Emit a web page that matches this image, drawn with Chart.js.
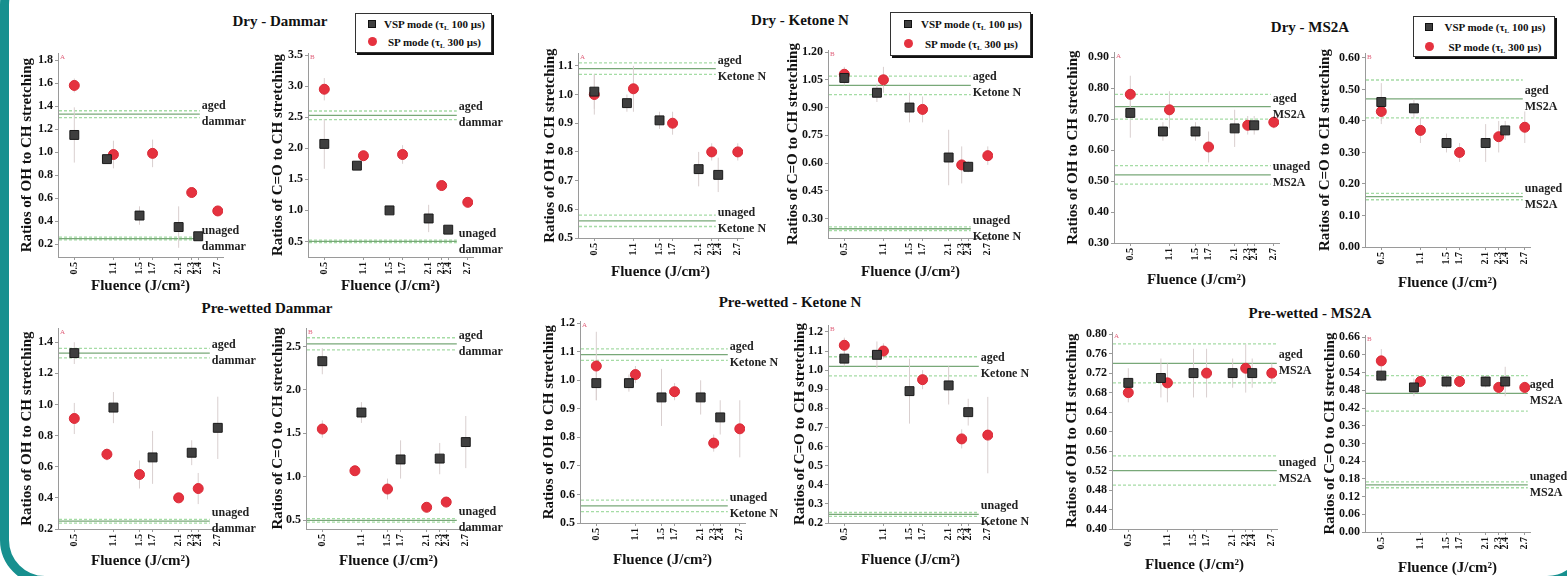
<!DOCTYPE html>
<html>
<head>
<meta charset="utf-8">
<script src="https://cdn.jsdelivr.net/npm/chart.js@4.4.1/dist/chart.umd.min.js"></script>
<style>
body { margin: 0; width: 1567px; height: 576px; overflow: hidden; background: #fff; position: relative; font-family: "Liberation Serif", "DejaVu Serif", serif; color: #111; }
.frame { position: absolute; left: 0; top: -40px; width: 1592px; height: 625px; box-sizing: border-box; border: 9px solid #17908f; border-radius: 45px; }
canvas { position: absolute; }
.ptitle { position: absolute; transform: translate(-50%, -50%); font-weight: bold; font-size: 15px; white-space: nowrap; }
.legend { position: absolute; border: 1px solid #333; box-shadow: 2px 2px 0 #111; background: #fff; font-weight: bold; font-size: 11px; box-sizing: border-box; }
.legend .row { position: absolute; left: 0; right: 0; height: 14px; line-height: 14px; }
.legend .sq { position: absolute; top: 3px; width: 6px; height: 6px; background: #404040; border: 1px solid #111; }
.legend .ci { position: absolute; top: 2px; width: 9px; height: 9px; border-radius: 50%; background: #e5323f; }
.legend .txt { position: absolute; left: 24px; right: 2px; text-align: center; white-space: nowrap; }
.legend sub { font-size: 7px; vertical-align: -2px; line-height: 0; }
</style>
</head>
<body>
<div class="frame"></div>
<script>
// fluence values (J/cm2)
const fluenceA = [0.5, 1.0, 1.5, 2.1, 2.4];
const fluenceB = [0.5, 1.1, 1.7, 2.3, 2.7];
const fluenceTicks = [0.5, 1.1, 1.5, 1.7, 2.1, 2.3, 2.4, 2.7];

// Dry - Dammar
const dryDammarOhVsp = [1.15, 0.94, 0.45, 0.35, 0.27];
const dryDammarOhVspErr = [0.24, 0.03, 0.08, 0.18, 0.02];
const dryDammarOhSp = [1.58, 0.98, 0.99, 0.65, 0.49];
const dryDammarOhSpErr = [0.06, 0.12, 0.12, 0.02, 0.02];
const dryDammarCoVsp = [2.07, 1.72, 1.0, 0.87, 0.69];
const dryDammarCoVspErr = [0.4, 0.05, 0.06, 0.22, 0.03];
const dryDammarCoSp = [2.95, 1.88, 1.9, 1.4, 1.13];
const dryDammarCoSpErr = [0.18, 0.08, 0.15, 0.05, 0.05];

// Dry - Ketone N
const dryKetoneOhVsp = [1.01, 0.97, 0.91, 0.74, 0.72];
const dryKetoneOhVspErr = [0.06, 0.03, 0.03, 0.06, 0.06];
const dryKetoneOhSp = [1.0, 1.02, 0.90, 0.80, 0.80];
const dryKetoneOhSpErr = [0.07, 0.08, 0.04, 0.03, 0.03];
const dryKetoneCoVsp = [1.06, 0.98, 0.90, 0.63, 0.58];
const dryKetoneCoVspErr = [0.04, 0.05, 0.08, 0.15, 0.03];
const dryKetoneCoSp = [1.08, 1.05, 0.89, 0.59, 0.64];
const dryKetoneCoSpErr = [0.04, 0.07, 0.07, 0.1, 0.05];

// Dry - MS2A
const dryMs2aOhVsp = [0.72, 0.66, 0.66, 0.67, 0.68];
const dryMs2aOhVspErr = [0.08, 0.03, 0.03, 0.06, 0.03];
const dryMs2aOhSp = [0.78, 0.73, 0.61, 0.68, 0.69];
const dryMs2aOhSpErr = [0.06, 0.06, 0.05, 0.03, 0.02];
const dryMs2aCoVsp = [0.46, 0.44, 0.33, 0.33, 0.37];
const dryMs2aCoVspErr = [0.06, 0.03, 0.03, 0.06, 0.03];
const dryMs2aCoSp = [0.43, 0.37, 0.30, 0.35, 0.38];
const dryMs2aCoSpErr = [0.04, 0.04, 0.03, 0.05, 0.05];

// Pre-wetted Dammar (VSP on fluenceB, SP on fluenceA)
const wetDammarOhVsp = [1.33, 0.98, 0.66, 0.69, 0.85];
const wetDammarOhVspErr = [0.07, 0.1, 0.17, 0.08, 0.2];
const wetDammarOhSp = [0.91, 0.68, 0.55, 0.40, 0.46];
const wetDammarOhSpErr = [0.1, 0.04, 0.09, 0.02, 0.1];
const wetDammarCoVsp = [2.33, 1.74, 1.2, 1.21, 1.4];
const wetDammarCoVspErr = [0.15, 0.12, 0.22, 0.18, 0.3];
const wetDammarCoSp = [1.55, 1.07, 0.86, 0.65, 0.71];
const wetDammarCoSpErr = [0.1, 0.06, 0.12, 0.03, 0.06];

// Pre-wetted - Ketone N
const wetKetoneOhVsp = [0.99, 0.99, 0.94, 0.94, 0.87];
const wetKetoneOhVspErr = [0.06, 0.03, 0.1, 0.06, 0.06];
const wetKetoneOhSp = [1.05, 1.02, 0.96, 0.78, 0.83];
const wetKetoneOhSpErr = [0.12, 0.03, 0.03, 0.03, 0.1];
const wetKetoneCoVsp = [1.06, 1.08, 0.89, 0.92, 0.78];
const wetKetoneCoVspErr = [0.04, 0.07, 0.17, 0.1, 0.07];
const wetKetoneCoSp = [1.13, 1.10, 0.95, 0.64, 0.66];
const wetKetoneCoSpErr = [0.04, 0.04, 0.05, 0.05, 0.2];

// Pre-wetted - MS2A
const wetMs2aOhVsp = [0.70, 0.71, 0.72, 0.72, 0.72];
const wetMs2aOhVspErr = [0.03, 0.04, 0.05, 0.03, 0.03];
const wetMs2aOhSp = [0.68, 0.70, 0.72, 0.73, 0.72];
const wetMs2aOhSpErr = [0.02, 0.04, 0.05, 0.05, 0.02];
const wetMs2aCoVsp = [0.53, 0.49, 0.51, 0.51, 0.51];
const wetMs2aCoVspErr = [0.02, 0.03, 0.02, 0.02, 0.05];
const wetMs2aCoSp = [0.58, 0.51, 0.51, 0.49, 0.49];
const wetMs2aCoSpErr = [0.04, 0.02, 0.02, 0.02, 0.02];

// reference values [mean, spread]
const dammarOhAged = [1.33, 0.03], dammarOhUnaged = [0.25, 0.012];
const dammarCoAged = [2.53, 0.07], dammarCoUnaged = [0.5, 0.02];
const ketoneOhAged = [1.09, 0.02], ketoneOhUnaged = [0.56, 0.02];
const ketoneCoAged = [1.02, 0.05], ketoneCoUnaged = [0.245, 0.01];
const ms2aOhAged = [0.74, 0.04], ms2aOhUnaged = [0.52, 0.03];
const ms2aCoAged = [0.47, 0.06], ms2aCoUnaged = [0.16, 0.01];

// y tick labels
const ticksDammarOh = [0.2, 0.4, 0.6, 0.8, 1.0, 1.2, 1.4, 1.6, 1.8];
const ticksDammarCo = [0.5, 1.0, 1.5, 2.0, 2.5, 3.0, 3.5];
const ticksKetoneOh = [0.5, 0.6, 0.7, 0.8, 0.9, 1.0, 1.1];
const ticksKetoneCo = [0.30, 0.45, 0.60, 0.75, 0.90, 1.05, 1.20];
const ticksMs2aOh = [0.30, 0.35, 0.40, 0.45, 0.50, 0.55, 0.60, 0.65, 0.70, 0.75, 0.80, 0.85, 0.90];
const ticksMs2aCo = [0.00, 0.05, 0.10, 0.15, 0.20, 0.25, 0.30, 0.35, 0.40, 0.45, 0.50, 0.55, 0.60];
const ticksWetDammarOh = [0.2, 0.4, 0.6, 0.8, 1.0, 1.2, 1.4];
const ticksWetDammarCo = [0.5, 1.0, 1.5, 2.0, 2.5];
const ticksWetKetoneOh = [0.5, 0.6, 0.7, 0.8, 0.9, 1.0, 1.1, 1.2];
const ticksWetKetoneCo = [0.2, 0.3, 0.4, 0.5, 0.6, 0.7, 0.8, 0.9, 1.0, 1.1, 1.2];
const ticksWetMs2aOh = [0.40, 0.44, 0.48, 0.52, 0.56, 0.60, 0.64, 0.68, 0.72, 0.76, 0.80];
const ticksWetMs2aCo = [0.00, 0.06, 0.12, 0.18, 0.24, 0.30, 0.36, 0.42, 0.48, 0.54, 0.60, 0.66];

const OH_TITLE = 'Ratios of OH to CH stretching';
const CO_TITLE = 'Ratios of C=O to CH stretching';

const panels = [
    { vspX: fluenceA, vsp: dryDammarOhVsp, vspErr: dryDammarOhVspErr, spX: fluenceB, sp: dryDammarOhSp, spErr: dryDammarOhSpErr,
      yTicks: ticksDammarOh, yMin: 0.09, yMax: 1.86, dec: 1, yTitle: OH_TITLE, aged: dammarOhAged, unaged: dammarOhUnaged, name: 'dammar', letter: 'A',
      axisX: 58, top: 48, bottom: 257, yw: 40, xh: 38, labelDx: -16 },
    { vspX: fluenceA, vsp: dryDammarCoVsp, vspErr: dryDammarCoVspErr, spX: fluenceB, sp: dryDammarCoSp, spErr: dryDammarCoSpErr,
      yTicks: ticksDammarCo, yMin: 0.25, yMax: 3.53, dec: 1, yTitle: CO_TITLE, aged: dammarCoAged, unaged: dammarCoUnaged, name: 'dammar', letter: 'B',
      axisX: 308, top: 48, bottom: 257, yw: 39, xh: 38, labelDx: -9 },
    { vspX: fluenceA, vsp: dryKetoneOhVsp, vspErr: dryKetoneOhVspErr, spX: fluenceB, sp: dryKetoneOhSp, spErr: dryKetoneOhSpErr,
      yTicks: ticksKetoneOh, yMin: 0.5, yMax: 1.144, dec: 1, yTitle: OH_TITLE, aged: ketoneOhAged, unaged: ketoneOhUnaged, name: 'Ketone N', letter: 'A',
      axisX: 578, top: 48, bottom: 238, yw: 37, xh: 43, labelDx: -20 },
    { vspX: fluenceA, vsp: dryKetoneCoVsp, vspErr: dryKetoneCoVspErr, spX: fluenceB, sp: dryKetoneCoSp, spErr: dryKetoneCoSpErr,
      yTicks: ticksKetoneCo, yMin: 0.195, yMax: 1.21, dec: 2, yTitle: CO_TITLE, aged: ketoneCoAged, unaged: ketoneCoUnaged, name: 'Ketone N', letter: 'B',
      axisX: 828, top: 45, bottom: 238, yw: 44, xh: 43, labelDx: -15 },
    { vspX: fluenceA, vsp: dryMs2aOhVsp, vspErr: dryMs2aOhVspErr, spX: fluenceB, sp: dryMs2aOhSp, spErr: dryMs2aOhSpErr,
      yTicks: ticksMs2aOh, yMin: 0.30, yMax: 0.916, dec: 2, yTitle: OH_TITLE, aged: ms2aOhAged, unaged: ms2aOhUnaged, name: 'MS2A', letter: 'A',
      axisX: 1114, top: 47, bottom: 243, yw: 50, xh: 46, labelDx: -1 },
    { vspX: fluenceA, vsp: dryMs2aCoVsp, vspErr: dryMs2aCoVspErr, spX: fluenceB, sp: dryMs2aCoSp, spErr: dryMs2aCoSpErr,
      yTicks: ticksMs2aCo, yMin: 0, yMax: 0.615, dec: 2, yTitle: CO_TITLE, aged: ms2aCoAged, unaged: ms2aCoUnaged, name: 'MS2A', letter: 'B',
      axisX: 1365, top: 48, bottom: 247, yw: 49, xh: 45, labelDx: 0 },
    { vspX: fluenceB, vsp: wetDammarOhVsp, vspErr: wetDammarOhVspErr, spX: fluenceA, sp: wetDammarOhSp, spErr: wetDammarOhSpErr,
      yTicks: ticksWetDammarOh, yMin: 0.2, yMax: 1.49, dec: 1, yTitle: OH_TITLE, aged: dammarOhAged, unaged: dammarOhUnaged, name: 'dammar', letter: 'A',
      axisX: 58, top: 323, bottom: 529, yw: 40, xh: 41, labelDx: -6 },
    { vspX: fluenceB, vsp: wetDammarCoVsp, vspErr: wetDammarCoVspErr, spX: fluenceA, sp: wetDammarCoSp, spErr: wetDammarCoSpErr,
      yTicks: ticksWetDammarCo, yMin: 0.4, yMax: 2.71, dec: 1, yTitle: CO_TITLE, aged: dammarCoAged, unaged: dammarCoUnaged, name: 'dammar', letter: 'B',
      axisX: 306, top: 323, bottom: 529, yw: 37, xh: 41, labelDx: -7 },
    { vspX: fluenceA, vsp: wetKetoneOhVsp, vspErr: wetKetoneOhVspErr, spX: fluenceB, sp: wetKetoneOhSp, spErr: wetKetoneOhSpErr,
      yTicks: ticksWetKetoneOh, yMin: 0.5, yMax: 1.207, dec: 1, yTitle: OH_TITLE, aged: ketoneOhAged, unaged: ketoneOhUnaged, name: 'Ketone N', letter: 'A',
      axisX: 580, top: 316, bottom: 523, yw: 40, xh: 46, labelDx: -10 },
    { vspX: fluenceA, vsp: wetKetoneCoVsp, vspErr: wetKetoneCoVspErr, spX: fluenceB, sp: wetKetoneCoSp, spErr: wetKetoneCoSpErr,
      yTicks: ticksWetKetoneCo, yMin: 0.2, yMax: 1.235, dec: 1, yTitle: CO_TITLE, aged: ketoneCoAged, unaged: ketoneCoUnaged, name: 'Ketone N', letter: 'B',
      axisX: 828, top: 320, bottom: 523, yw: 37, xh: 46, labelDx: -7 },
    { vspX: fluenceA, vsp: wetMs2aOhVsp, vspErr: wetMs2aOhVspErr, spX: fluenceB, sp: wetMs2aOhSp, spErr: wetMs2aOhSpErr,
      yTicks: ticksWetMs2aOh, yMin: 0.4, yMax: 0.804, dec: 2, yTitle: OH_TITLE, aged: ms2aOhAged, unaged: ms2aOhUnaged, name: 'MS2A', letter: 'A',
      axisX: 1112, top: 327, bottom: 529, yw: 49, xh: 45, labelDx: 7 },
    { vspX: fluenceA, vsp: wetMs2aCoVsp, vspErr: wetMs2aCoVspErr, spX: fluenceB, sp: wetMs2aCoSp, spErr: wetMs2aCoSpErr,
      yTicks: ticksWetMs2aCo, yMin: 0, yMax: 0.667, dec: 2, yTitle: CO_TITLE, aged: ms2aCoAged, unaged: ms2aCoUnaged, name: 'MS2A', letter: 'B',
      axisX: 1365, top: 330, bottom: 532, yw: 44, xh: 45, labelDx: 5 },
];

const groupTitles = [
    { text: 'Dry - Dammar', x: 280, y: 21 },
    { text: 'Dry - Ketone N', x: 800, y: 20 },
    { text: 'Dry - MS2A', x: 1310, y: 27 },
    { text: 'Pre-wetted Dammar', x: 267, y: 308 },
    { text: 'Pre-wetted - Ketone N', x: 790, y: 302 },
    { text: 'Pre-wetted - MS2A', x: 1310, y: 313 },
];
const legends = [
    { left: 355, top: 13, width: 137, height: 40, rows: [10, 28], mk: 16 },
    { left: 890, top: 12, width: 141, height: 44, rows: [11, 31], mk: 17 },
    { left: 1413, top: 16, width: 142, height: 41, rows: [10, 30], mk: 15 },
];

const SERIF = '"Liberation Serif", "DejaVu Serif", serif';
const X_MIN = 0.25, X_MAX = 2.78, PLOT_W = 165, PAD_TOP = 4, PAD_RIGHT = 64;
const REF_MEAN = '#78a878', REF_BOUND = '#a5dca5', ERR_COLOR = '#d9cfcf';

Chart.defaults.font.family = SERIF;
Chart.defaults.color = '#111';

groupTitles.forEach(t => {
    const d = document.createElement('div');
    d.className = 'ptitle';
    d.style.left = t.x + 'px';
    d.style.top = t.y + 'px';
    d.textContent = t.text;
    document.body.appendChild(d);
});

legends.forEach(l => {
    const d = document.createElement('div');
    d.className = 'legend';
    d.style.cssText = `left:${l.left}px;top:${l.top}px;width:${l.width}px;height:${l.height}px;`;
    d.innerHTML = `
        <div class='row' style='top:${l.rows[0] - 7}px'><span class='sq' style='left:${l.mk - 4}px'></span><span class='txt'>VSP mode (τ<sub>L</sub> 100 µs)</span></div>
        <div class='row' style='top:${l.rows[1] - 7}px'><span class='ci' style='left:${l.mk - 4}px'></span><span class='txt'>SP mode (τ<sub>L</sub> 300 µs)</span></div>`;
    document.body.appendChild(d);
});

function makeOverlay(p) {
    return {
        id: 'overlay',
        beforeDatasetsDraw(chart) {
            const { ctx, chartArea, scales: { x, y } } = chart;
            const lineEnd = x.getPixelForValue(2.7) + p.labelDx - 2;
            ctx.save();
            [p.aged, p.unaged].forEach(ref => {
                const lines = [
                    [ref[0] + ref[1], REF_BOUND, [3, 2]],
                    [ref[0] - ref[1], REF_BOUND, [3, 2]],
                    [ref[0], REF_MEAN, []],
                ];
                lines.forEach(([v, color, dash]) => {
                    const py = y.getPixelForValue(v);
                    ctx.beginPath();
                    ctx.setLineDash(dash);
                    ctx.strokeStyle = color;
                    ctx.lineWidth = 1.3;
                    ctx.moveTo(chartArea.left + 1, py);
                    ctx.lineTo(lineEnd, py);
                    ctx.stroke();
                });
            });
            ctx.setLineDash([]);
            // error bars
            ctx.strokeStyle = ERR_COLOR;
            ctx.lineWidth = 1;
            chart.data.datasets.forEach((ds, i) => {
                const meta = chart.getDatasetMeta(i);
                meta.data.forEach((pt, j) => {
                    const v = ds.data[j].y, e = ds.errors[j];
                    ctx.beginPath();
                    ctx.moveTo(pt.x, y.getPixelForValue(v + e));
                    ctx.lineTo(pt.x, y.getPixelForValue(v - e));
                    ctx.stroke();
                });
            });
            ctx.restore();
        },
        afterDatasetsDraw(chart) {
            const { ctx, chartArea, scales: { x, y } } = chart;
            const lx = x.getPixelForValue(2.7) + p.labelDx;
            ctx.save();
            ctx.font = `bold 12px ${SERIF}`;
            ctx.fillStyle = '#222';
            ctx.textBaseline = 'middle';
            ctx.textAlign = 'left';
            [[p.aged, 'aged'], [p.unaged, 'unaged']].forEach(([ref, word]) => {
                const py = y.getPixelForValue(ref[0]);
                ctx.fillText(word, lx, py - 8);
                ctx.fillText(p.name, lx, py + 8);
            });
            ctx.font = `7px ${SERIF}`;
            ctx.fillStyle = '#e0607a';
            ctx.textBaseline = 'top';
            ctx.fillText(p.letter, chartArea.left + 2, chartArea.top);
            ctx.restore();
        }
    };
}

panels.forEach(p => {
    const canvas = document.createElement('canvas');
    const w = p.yw + PLOT_W + PAD_RIGHT;
    const h = PAD_TOP + (p.bottom - p.top) + p.xh;
    canvas.width = w;
    canvas.height = h;
    canvas.style.left = (p.axisX - p.yw) + 'px';
    canvas.style.top = (p.top - PAD_TOP) + 'px';
    document.body.appendChild(canvas);

    new Chart(canvas, {
        type: 'scatter',
        data: {
            datasets: [
                {
                    label: 'VSP mode',
                    data: p.vspX.map((f, i) => ({ x: f, y: p.vsp[i] })),
                    errors: p.vspErr,
                    pointStyle: 'rect',
                    pointRadius: 6.3,
                    backgroundColor: '#3f3f3f',
                    borderColor: '#1a1a1a',
                    borderWidth: 1,
                },
                {
                    label: 'SP mode',
                    data: p.spX.map((f, i) => ({ x: f, y: p.sp[i] })),
                    errors: p.spErr,
                    pointStyle: 'circle',
                    pointRadius: 5,
                    backgroundColor: '#e5323f',
                    borderColor: '#d92a37',
                    borderWidth: 1,
                },
            ]
        },
        options: {
            responsive: false,
            animation: false,
            layout: { padding: { left: 0, top: PAD_TOP, right: PAD_RIGHT, bottom: 0 } },
            plugins: { legend: { display: false }, tooltip: { enabled: false } },
            scales: {
                x: {
                    type: 'linear',
                    min: X_MIN,
                    max: X_MAX,
                    afterBuildTicks: a => { a.ticks = fluenceTicks.map(v => ({ value: v })); },
                    afterFit: s => { s.height = p.xh; },
                    ticks: { autoSkip: false, minRotation: 90, maxRotation: 90, padding: 2,
                             callback: v => v.toFixed(1), font: { size: 10, weight: 'bold' }, color: '#111' },
                    grid: { drawOnChartArea: false, tickLength: 3, color: '#9a9a9a' },
                    border: { color: '#9a9a9a' },
                    title: { display: true, text: 'Fluence (J/cm²)', padding: 0, color: '#111',
                             font: { size: 15, weight: 'bold' } }
                },
                y: {
                    type: 'linear',
                    min: p.yMin,
                    max: p.yMax,
                    afterBuildTicks: a => { a.ticks = p.yTicks.map(v => ({ value: v })); },
                    afterFit: s => { s.width = p.yw; },
                    ticks: { padding: 2, callback: v => v.toFixed(p.dec), font: { size: 12, weight: 'bold' }, color: '#111' },
                    grid: { drawOnChartArea: false, tickLength: 3, color: '#9a9a9a' },
                    border: { color: '#9a9a9a' },
                    title: { display: true, text: p.yTitle, padding: 0, color: '#111',
                             font: { size: 15, weight: 'bold' } }
                }
            }
        },
        plugins: [makeOverlay(p)]
    });
});
</script>
</body>
</html>
